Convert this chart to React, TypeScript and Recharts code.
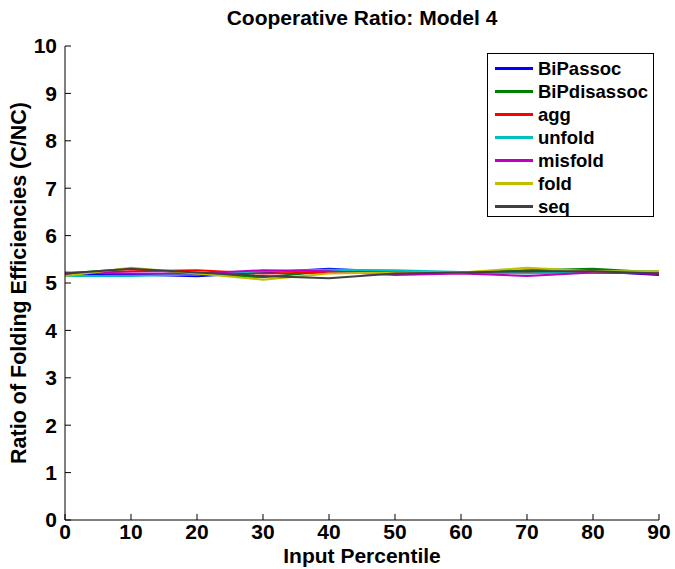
import React from "react";
import { LineChart, Line, XAxis, YAxis } from "recharts";

const percentiles = [0, 10, 20, 30, 40, 50, 60, 70, 80, 90];

const biPassoc = [5.17, 5.18, 5.14, 5.22, 5.3, 5.23, 5.23, 5.22, 5.25, 5.17];
const biPdisassoc = [5.2, 5.3, 5.2, 5.12, 5.25, 5.22, 5.22, 5.27, 5.3, 5.22];
const agg = [5.2, 5.25, 5.27, 5.2, 5.22, 5.2, 5.22, 5.22, 5.22, 5.2];
const unfold = [5.15, 5.15, 5.18, 5.25, 5.28, 5.27, 5.23, 5.2, 5.25, 5.25];
const misfold = [5.22, 5.2, 5.2, 5.27, 5.25, 5.17, 5.2, 5.15, 5.22, 5.2];
const fold = [5.15, 5.32, 5.2, 5.07, 5.2, 5.22, 5.22, 5.32, 5.25, 5.25];
const seq = [5.2, 5.3, 5.22, 5.15, 5.1, 5.2, 5.22, 5.25, 5.25, 5.2];

const xTicks = [0, 10, 20, 30, 40, 50, 60, 70, 80, 90];
const yTicks = [0, 1, 2, 3, 4, 5, 6, 7, 8, 9, 10];

const series = [
  { key: "BiPassoc", values: biPassoc, color: "#0000ff" },
  { key: "BiPdisassoc", values: biPdisassoc, color: "#008000" },
  { key: "agg", values: agg, color: "#ff0000" },
  { key: "unfold", values: unfold, color: "#00bfbf" },
  { key: "misfold", values: misfold, color: "#bf00bf" },
  { key: "fold", values: fold, color: "#bfbf00" },
  { key: "seq", values: seq, color: "#404040" },
];

const data = percentiles.map((p, i) => {
  const row: Record<string, number> = { p };
  series.forEach((s) => (row[s.key] = s.values[i]));
  return row;
});

const narrow = "'Liberation Sans Narrow', 'Liberation Sans', Arial";
const wide = "'Liberation Sans', Arial";

const tickFont = {
  fontFamily: narrow,
  fontWeight: "bold",
  fontSize: 21,
  fill: "#000",
};

// matlab style legend, placed over the top right corner of the axes
const LegendBox = () => (
  <div
    style={{
      position: "absolute",
      left: 487,
      top: 53,
      border: "1px solid #000",
      background: "#fff",
      width: 167,
      height: 164,
      boxSizing: "border-box",
      padding: "3px 0 0 7px",
      fontFamily: wide,
      fontWeight: "bold",
      fontSize: 18.5,
    }}
  >
    {series.map((s) => (
      <div key={s.key} style={{ display: "flex", alignItems: "center", height: 23 }}>
        <div style={{ width: 38, height: 3, background: s.color, marginRight: 5 }} />
        <span>{s.key}</span>
      </div>
    ))}
  </div>
);

export default function App() {
  return (
    <div style={{ position: "absolute", left: 0, top: 0, background: "#fff" }}>
      <LineChart
        width={675}
        height={569}
        data={data}
        margin={{ top: 46, right: 16, bottom: 0, left: 0 }}
      >
        <text
          x={362}
          y={25}
          textAnchor="middle"
          style={{ fontFamily: wide, fontWeight: "bold", fontSize: 21 }}
        >
          Cooperative Ratio: Model 4
        </text>
        <XAxis
          dataKey="p"
          type="number"
          domain={[0, 90]}
          ticks={xTicks}
          interval={0}
          height={49}
          tickSize={-6}
          tickMargin={10}
          axisLine={{ stroke: "#000", strokeWidth: 1 }}
          tickLine={{ stroke: "#000" }}
          tick={tickFont}
          label={{
            value: "Input Percentile",
            position: "insideBottom",
            offset: 6,
            style: { ...tickFont, fontSize: 21, textAnchor: "middle" },
          }}
        />
        <XAxis
          xAxisId="top"
          orientation="top"
          dataKey="p"
          type="number"
          domain={[0, 90]}
          ticks={xTicks}
          tickSize={-6}
          tick={false}
          axisLine={{ stroke: "#000" }}
          tickLine={{ stroke: "#000" }}
          height={0}
        />
        <YAxis
          domain={[0, 10]}
          ticks={yTicks}
          interval={0}
          width={65}
          tickSize={-6}
          tickMargin={14}
          axisLine={{ stroke: "#000" }}
          tickLine={{ stroke: "#000" }}
          tick={tickFont}
          label={{
            value: "Ratio of Folding Efficiencies (C/NC)",
            angle: -90,
            position: "insideLeft",
            offset: 18,
            style: {
              fontFamily: wide,
              fontWeight: "bold",
              fontSize: 21.5,
              textAnchor: "middle",
              fill: "#000",
            },
          }}
        />
        <YAxis
          yAxisId="right"
          orientation="right"
          domain={[0, 10]}
          ticks={yTicks}
          tickSize={-6}
          tick={false}
          width={0}
          axisLine={{ stroke: "#000" }}
          tickLine={{ stroke: "#000" }}
        />
        {series.map((s) => (
          <Line
            key={s.key}
            dataKey={s.key}
            stroke={s.color}
            strokeWidth={2}
            dot={false}
            isAnimationActive={false}
          />
        ))}
      </LineChart>
      <LegendBox />
    </div>
  );
}
